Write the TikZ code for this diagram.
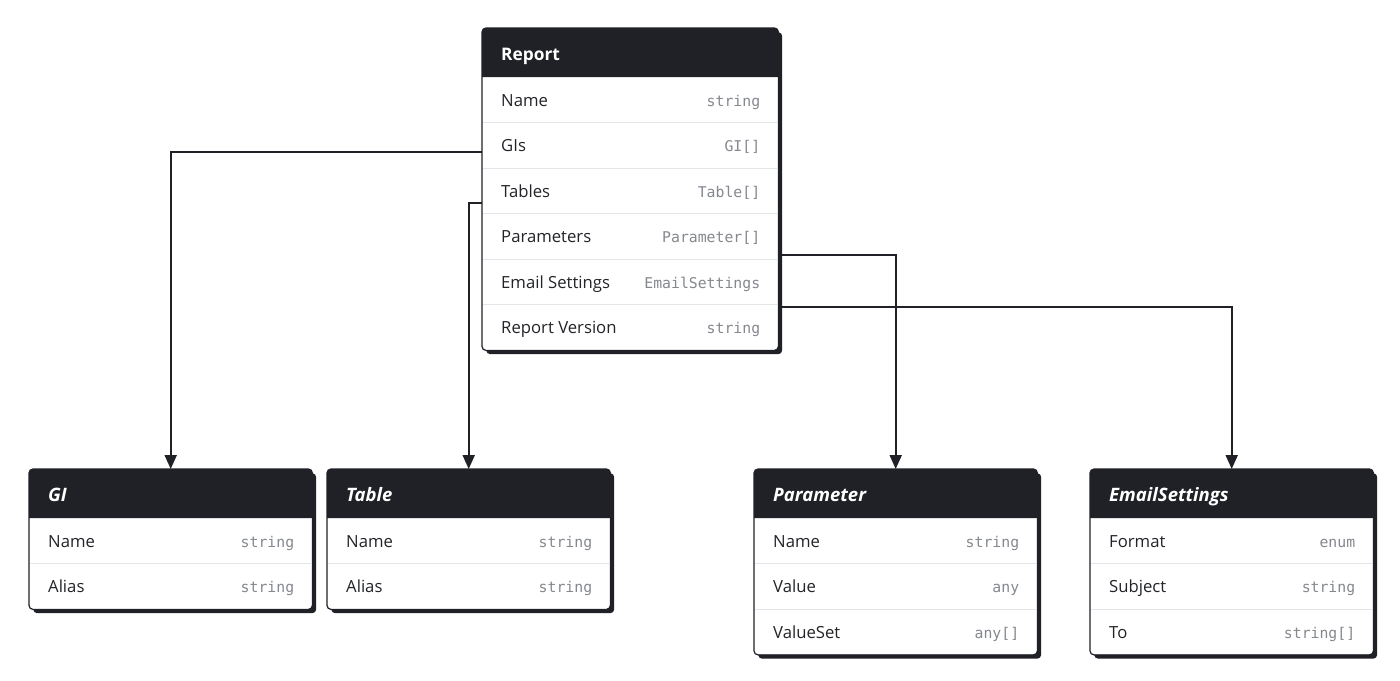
\documentclass[tikz,border=0pt]{standalone}
\usepackage{fontspec}
\setmainfont{Open Sans}
\newfontfamily\monofont{DejaVu Sans Mono}
\usetikzlibrary{arrows.meta,shadows}
\definecolor{darkc}{HTML}{1F2126}
\definecolor{sepc}{HTML}{E4E5E8}
\definecolor{typec}{HTML}{85888E}
\definecolor{rowc}{HTML}{222428}
\newcommand\ittitle[1]{{\fontsize{18.5}{21}\selectfont\itshape #1}}
\tikzset{
  boxbody/.style={fill=white, inner sep=0pt, rectangle, rounded corners=4pt,
    drop shadow={shadow xshift=4pt, shadow yshift=-4pt, fill=darkc, opacity=1}},
  boxborder/.style={draw=darkc, line width=1.2pt, rounded corners=4pt},
  hdrtext/.style={text=white, font=\fontsize{17.3}{20}\selectfont\bfseries, inner sep=0pt, text height=17pt, text depth=2pt},
  rowtext/.style={text=rowc, font=\fontsize{16.7}{19}\selectfont, inner sep=0pt, text height=15pt, text depth=2pt},
  typetext/.style={text=typec, font=\monofont\fontsize{14.8}{17}\selectfont, inner sep=0pt, text height=15pt, text depth=2pt},
  sepline/.style={draw=sepc, line width=1pt},
  conn/.style={draw=darkc, line width=2pt, -{Triangle[width=12pt,length=14pt]}},
}
% #1 name, #2 x, #3 y, #4 width, #5 number of rows, #6 title, #7 rows
\newcommand\umlbox[7]{%
  \pgfmathsetmacro\umlbh{49+45.5*#5}
  \node[boxbody, minimum width=#4pt, minimum height=\umlbh pt, anchor=north west] (#1) at (#2,#3) {};
  \fill[darkc] ([yshift=-49pt]#1.north west) [rounded corners=4pt] -- (#1.north west) -- (#1.north east) [sharp corners] -- ([yshift=-49pt]#1.north east) -- cycle;
  \node[hdrtext, anchor=west] (#1-t) at ([xshift=19pt, yshift=-24.5pt]#1.north west) {#6};
  \foreach \lab/\typ [count=\i] in {#7} {
    \node[rowtext, anchor=west] (#1-r\i) at ([xshift=19pt, yshift={-49pt-45.5pt*(\i-0.5)}]#1.north west) {\lab};
    \node[typetext, anchor=east] (#1-y\i) at ([xshift=-18pt, yshift={-49pt-45.5pt*(\i-0.5)}]#1.north east) {\typ};
    \ifnum\i>1
      \draw[sepline] ([xshift=1pt, yshift={-49pt-45.5pt*(\i-1)}]#1.north west) -- ([xshift=-1pt, yshift={-49pt-45.5pt*(\i-1)}]#1.north east);
    \fi
  }
  \draw[boxborder] (#1.north west) rectangle (#1.south east);
}
\begin{document}
\begin{tikzpicture}[x=1pt, y=-1pt]
\useasboundingbox (0,0) rectangle (1400,680);
\fill[white] (0,0) rectangle (1400,680);

\umlbox{report}{482}{28}{296}{6}{Report}{Name/string, GIs/GI[], Tables/Table[], Parameters/Parameter[], Email Settings/EmailSettings, Report Version/string}
\umlbox{gi}{29}{469}{283}{2}{\ittitle{GI}}{Name/string, Alias/string}
\umlbox{table}{327}{469}{283}{2}{\ittitle{Table}}{Name/string, Alias/string}
\umlbox{param}{754}{469}{283}{3}{\ittitle{Parameter}}{Name/string, Value/any, ValueSet/any[]}
\umlbox{email}{1090}{469}{283}{3}{\ittitle{EmailSettings}}{Format/enum, Subject/string, To/string[]}

\coordinate (c-gi) at ([yshift=-123.5pt]report.north west);
\coordinate (c-table) at ([yshift=-174.5pt]report.north west);
\coordinate (c-param) at ([yshift=-226.5pt]report.north east);
\coordinate (c-email) at ([yshift=-278.5pt]report.north east);

\draw[conn] (c-gi) -| (gi.north);
\draw[conn] (c-table) -| (table.north);
\draw[conn] (c-param) -| (param.north);
\draw[conn] (c-email) -| (email.north);
\end{tikzpicture}
\end{document}
